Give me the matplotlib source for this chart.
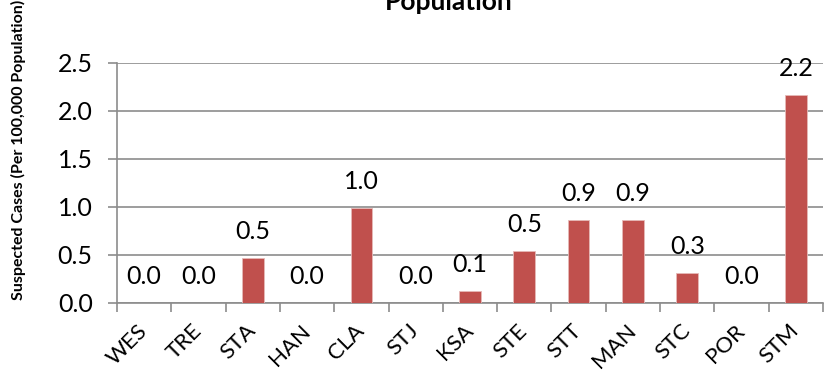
#!/usr/bin/env python

import matplotlib.pyplot as plt
import numpy as np
from matplotlib import ticker

sites = ["WES", "TRE", "STA", "HAN", "CLA", "STJ", "KSA",
         "STE", "STT", "MAN", "STC", "POR", "STM"]
rates = [0.0, 0.0, 0.47, 0.0, 0.99, 0.0, 0.12,
         0.54, 0.865, 0.86, 0.31, 0.0, 2.16]

BAR_RED = "#C0504D"
GRID_GREY = "#8C8C8C"

plt.rcParams["font.family"] = ["Lato", "DejaVu Sans"]


def main():
    fig = plt.figure(figsize=(8.35, 3.74), dpi=100)
    ax = fig.add_axes([117 / 835, 1 - 302.7 / 374, 706 / 835, 240.2 / 374])

    x = np.arange(len(sites))
    ax.bar(x, rates, width=0.4, color=BAR_RED, edgecolor="#E6B9B8",
           linewidth=0.6, zorder=3)

    # value labels sit a fixed distance above each bar
    for xi, v in zip(x, rates):
        ax.annotate("{:.1f}".format(v), xy=(xi, v), xytext=(0, 19),
                    textcoords="offset points", ha="center", va="center",
                    fontsize=18, zorder=4)

    ax.set_xlim(-0.5, len(sites) - 0.5)
    ax.set_ylim(0, 2.5)

    ax.yaxis.set_major_locator(ticker.MultipleLocator(0.5))
    ax.yaxis.set_major_formatter(ticker.FormatStrFormatter("%.1f"))
    ax.grid(axis="y", color=GRID_GREY, linewidth=1.2, zorder=0)
    ax.tick_params(axis="y", direction="out", length=6.5, width=1.2,
                   color=GRID_GREY, pad=11, labelsize=18)

    # ticks between categories, names under the centres
    ax.xaxis.set_major_locator(ticker.FixedLocator(np.arange(len(sites) + 1) - 0.5))
    ax.xaxis.set_major_formatter(ticker.NullFormatter())
    ax.xaxis.set_minor_locator(ticker.FixedLocator(x))
    ax.xaxis.set_minor_formatter(ticker.FixedFormatter(sites))
    ax.tick_params(axis="x", which="major", direction="out", length=6.5,
                   width=1.2, color=GRID_GREY)
    ax.tick_params(axis="x", which="minor", length=0, pad=18, labelsize=16)
    for lab in ax.get_xticklabels(minor=True):
        lab.set_rotation(45)
        lab.set_ha("right")
        lab.set_va("center")
        lab.set_rotation_mode("anchor")

    for side in ("top", "right"):
        ax.spines[side].set_visible(False)
    for side in ("left", "bottom"):
        ax.spines[side].set_color(GRID_GREY)
        ax.spines[side].set_linewidth(1.2)

    # second line of a title that runs off the top of the figure
    fig.text(449 / 835, 1 - 10 / 374, "Population", ha="center",
             va="baseline", fontsize=19, fontweight="bold")
    fig.text(18 / 835, 1 - 150 / 374, "Suspected Cases (Per 100,000 Population)",
             rotation=90, ha="center", va="center", fontsize=11.5,
             fontweight="bold")

    fig.savefig("out.png", dpi=100)


if __name__ == "__main__":
    main()
